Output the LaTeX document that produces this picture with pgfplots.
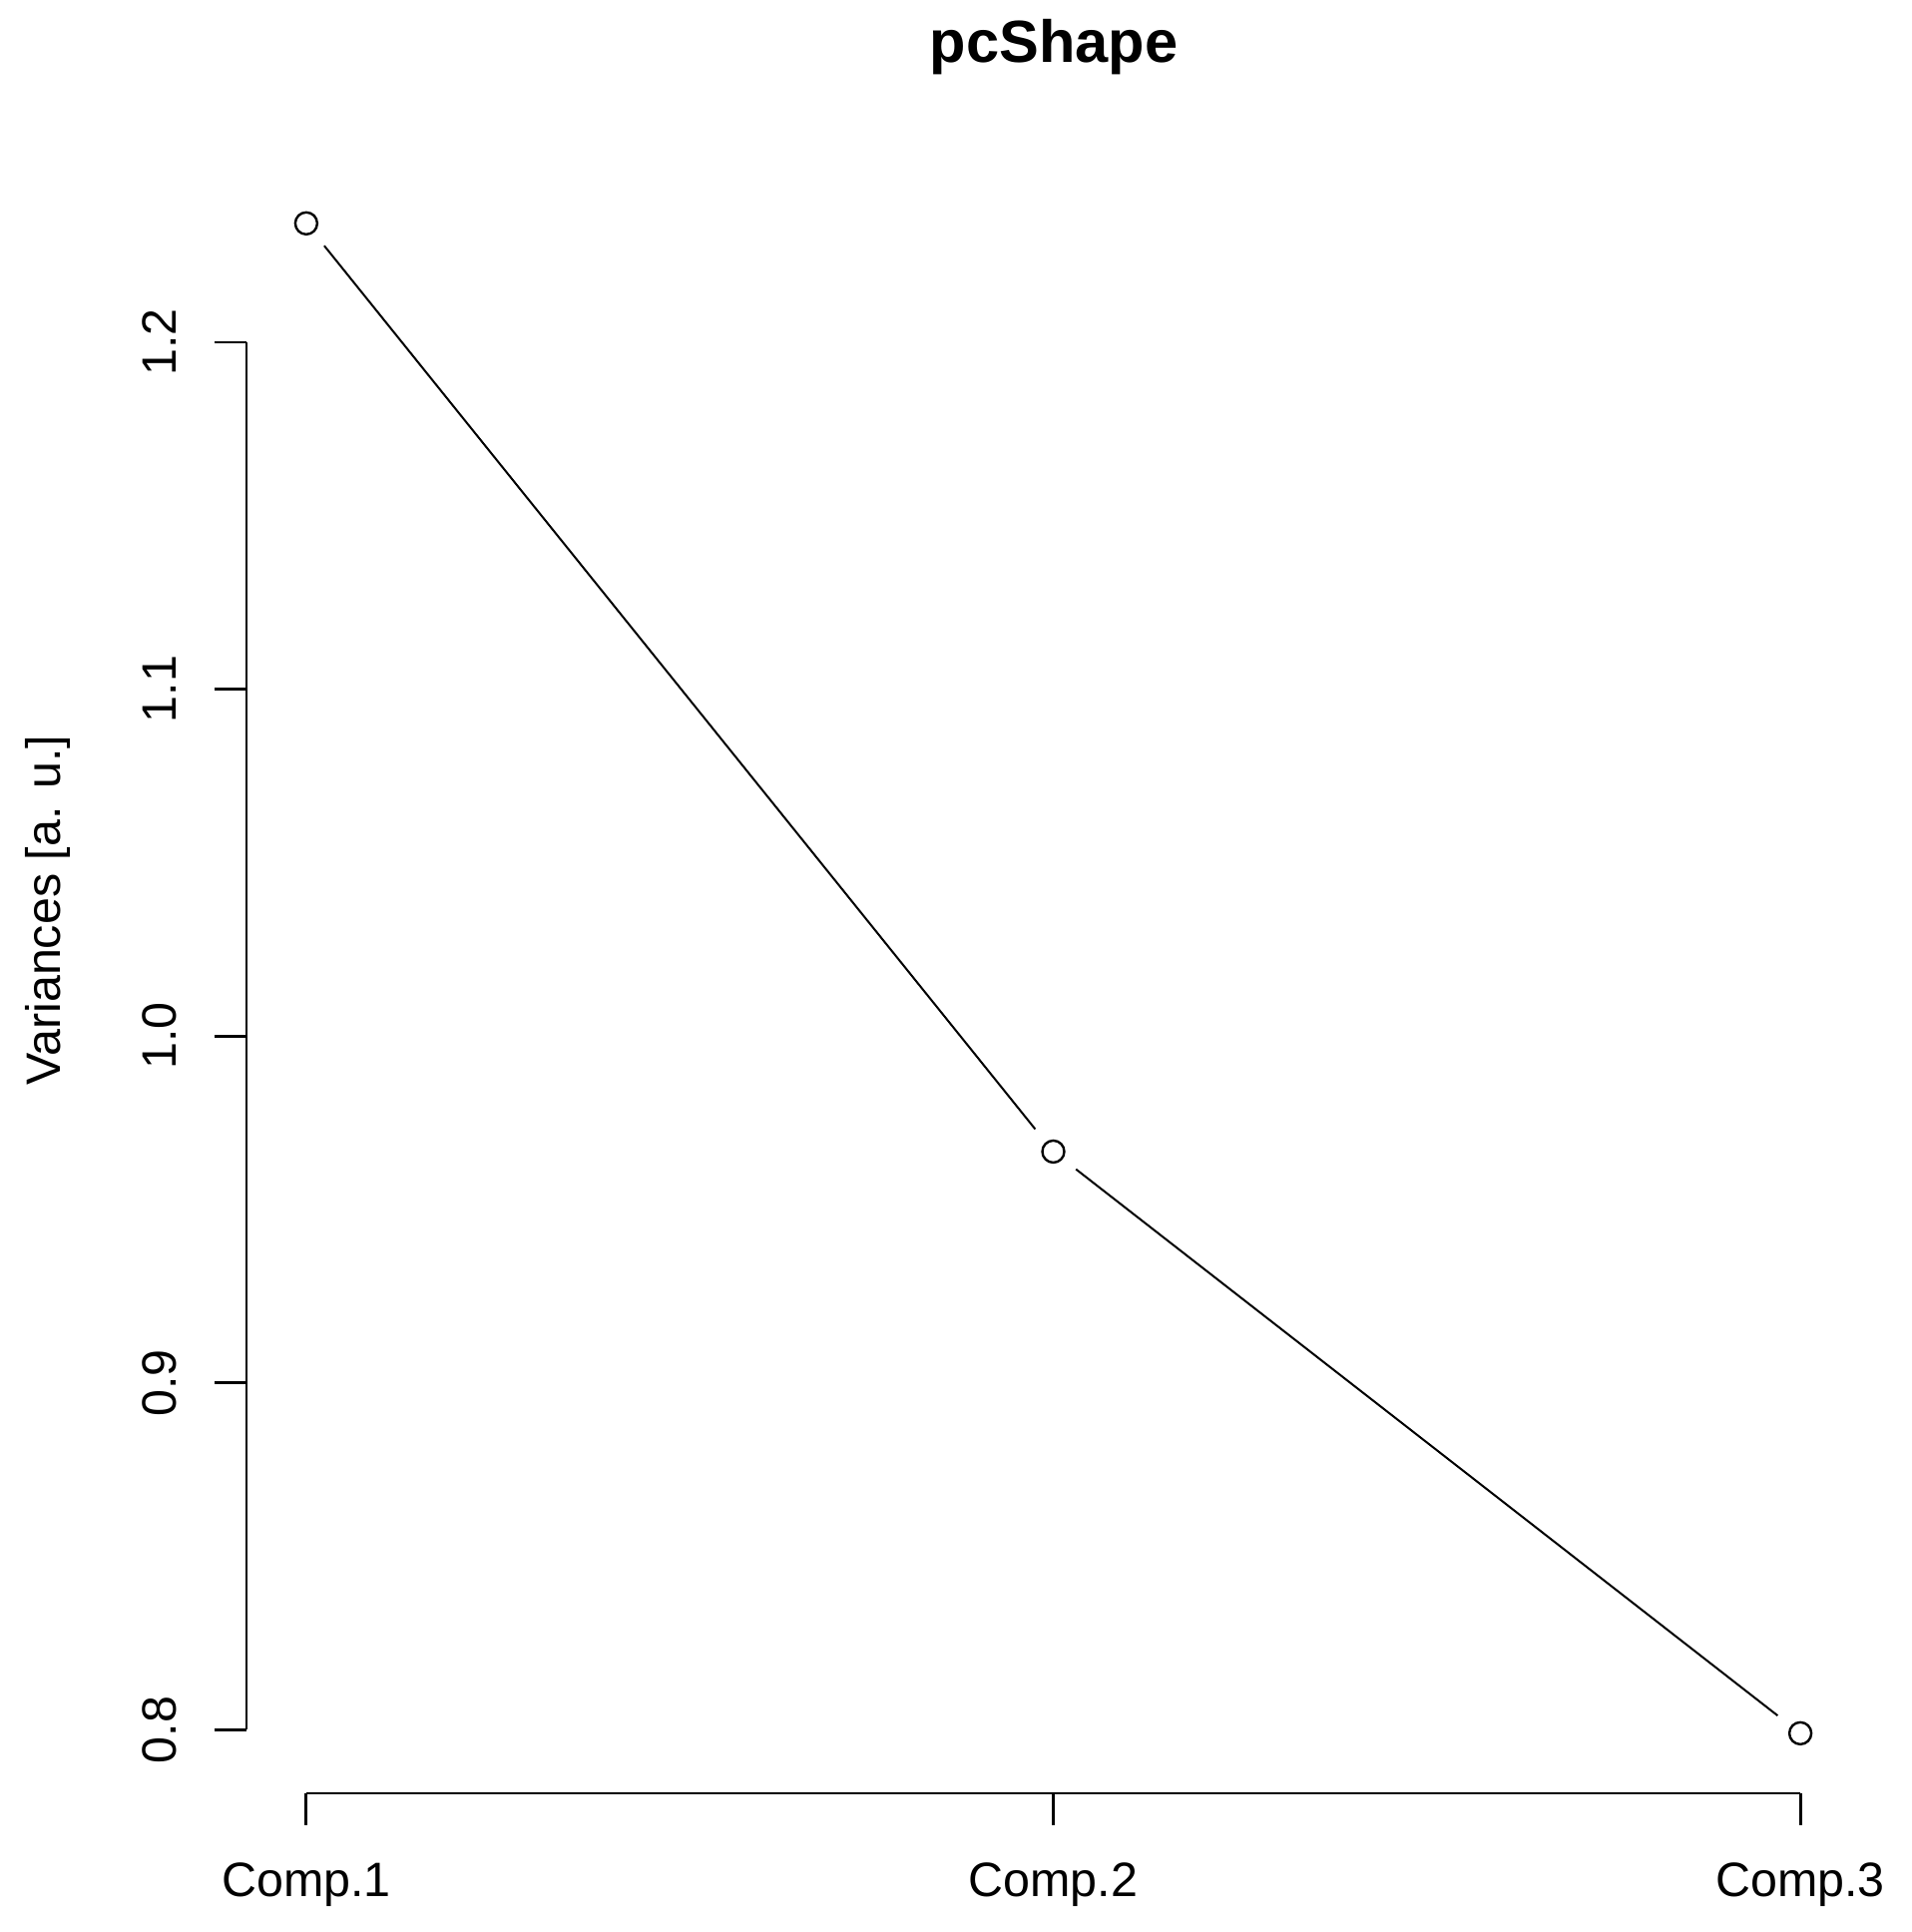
\documentclass[border=0pt]{standalone}
\usepackage{pgfplots}
\pgfplotsset{compat=1.18}
\usepackage{fontspec}
\setmainfont{Liberation Sans}

% scree plot data (variances of the principal components)
\pgfplotstableread{
x  var
1  1.2343
2  0.9667
3  0.7990
}\pcvar

\begin{document}
\begin{tikzpicture}
\useasboundingbox (0,0) rectangle (479bp,484bp);

\begin{axis}[
	at={(61.75bp,34.75bp)}, anchor=south west,
	scale only axis,
	width=404.25bp, height=408.5bp,
	xmin=0.92, xmax=3.08,
	ymin=0.7817, ymax=1.2518,
	clip=false,
	axis line style={draw=none},
	xtick={1,2,3}, xticklabels={Comp.1,Comp.2,Comp.3},
	ytick={0.8,0.9,1.0,1.1,1.2}, yticklabels={0.8,0.9,1.0,1.1,1.2},
	xtick pos=left, ytick pos=left,
	tick align=outside,
	major tick length=8bp,
	tick style={black, line width=0.7bp},
	ticklabel style={font=\fontsize{12.1bp}{14bp}\selectfont},
	xticklabel style={anchor=base, inner sep=0pt, yshift=-18bp},
	yticklabel style={rotate=90, anchor=base, inner sep=0pt, yshift=9.5bp},
	]
	% R style axes: lines only span the tick range
	\draw[line width=0.7bp] (axis cs:0.92,0.8) -- (axis cs:0.92,1.2);
	\draw[line width=0.7bp] (axis cs:1,0.7817) -- (axis cs:3,0.7817);

	\addplot[black, line width=0.5bp] table[x=x, y=var] {\pcvar};
	% type="b": gap round each point
	\addplot[only marks, mark=*, mark size=7bp, mark options={draw=white, fill=white}] table[x=x, y=var] {\pcvar};
	\addplot[only marks, mark=o, mark size=2.75bp, mark options={draw=black, line width=0.6bp}] table[x=x, y=var] {\pcvar};
\end{axis}

\node[anchor=base, font=\fontsize{14.9bp}{18bp}\selectfont\bfseries] at (264bp,468.25bp) {pcShape};
\node[rotate=90, anchor=base, inner sep=0pt, font=\fontsize{12.1bp}{14bp}\selectfont] at (15bp,256bp) {Variances [a. u.]};
\end{tikzpicture}
\end{document}
